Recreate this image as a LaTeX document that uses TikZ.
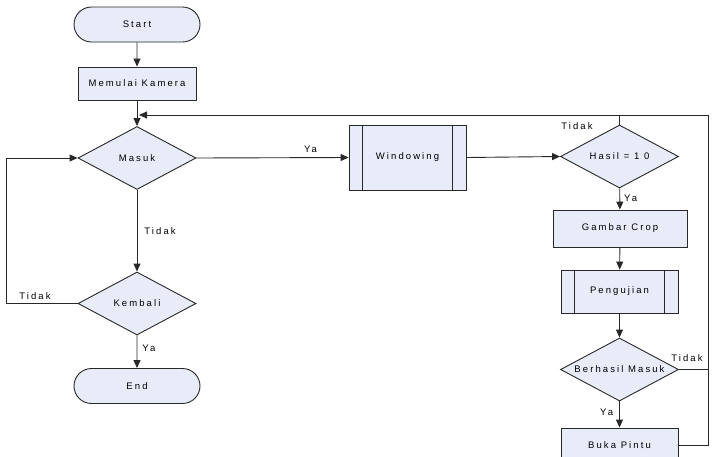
\documentclass[tikz,border=0pt]{standalone}
\usepackage{fontspec}
\setmainfont[LetterSpace=22]{Liberation Sans}
\usetikzlibrary{shapes.geometric,shapes.misc,arrows.meta,calc}
\definecolor{fillc}{RGB}{232,236,248}
\definecolor{linec}{RGB}{40,40,40}
\tikzset{
  base/.style={draw=linec, fill=fillc, line width=0.9pt, font=\fontsize{9.5}{11}\selectfont, inner sep=0pt},
  term/.style={base, rounded rectangle, minimum width=126pt, minimum height=35pt},
  proc/.style={base, rectangle},
  dec/.style={base, diamond, minimum width=118pt, minimum height=63pt, label={[lbl]center:#1}},
  lbl/.style={font=\fontsize{9.5}{11}\selectfont, inner sep=0pt},
  arr/.style={line width=0.9pt, draw=linec, -{Triangle[length=8pt,width=7pt]}},
  ln/.style={line width=0.9pt, draw=linec},
}
\begin{document}
\begin{tikzpicture}[x=1pt,y=-1pt]
\useasboundingbox (0,0) rectangle (712,456);
% nodes
\node[term] (start) at (137,24.5) {Start};
\node[proc, minimum width=118pt, minimum height=33pt] (cam) at (137,83.5) {Memulai Kamera};
\node[dec=Masuk] (masuk) at (137,158) {};
\node[dec=Kembali] (kembali) at (137,303.5) {};
\node[term] (end) at (137,386) {End};
\node[proc, minimum width=117pt, minimum height=65pt] (win) at (407.5,157.5) {Windowing};
\draw[ln] ([xshift=14pt]win.north west) -- ([xshift=14pt]win.south west);
\draw[ln] ([xshift=-14pt]win.north east) -- ([xshift=-14pt]win.south east);
\node[dec={Hasil = 1 0}] (hasil) at (619.5,156.5) {};
\node[proc, minimum width=134pt, minimum height=37pt] (crop) at (620,228.5) {Gambar Crop};
\node[proc, minimum width=117pt, minimum height=43pt] (uji) at (619.5,291.5) {Pengujian};
\draw[ln] ([xshift=14pt]uji.north west) -- ([xshift=14pt]uji.south west);
\draw[ln] ([xshift=-14pt]uji.north east) -- ([xshift=-14pt]uji.south east);
\node[dec={Berhasil Masuk}] (berhasil) at (619.5,369.5) {};
\node[proc, minimum width=117pt, minimum height=34pt] (buka) at (619.5,445) {Buka Pintu};
% helper coordinates
\coordinate (top) at (708,115);
\coordinate (ret) at (139,115);
\coordinate (lpt) at (6,158);
% connectors
\draw[arr] (start) -- (cam);
\draw[arr] (cam) -- (masuk);
\draw[arr] (masuk) -- node[lbl, right=7pt, pos=0.5] {Tidak} (kembali);
\draw[arr] (kembali) -- node[lbl, right=5pt, pos=0.4] {Ya} (end);
\draw[arr] (kembali.west) -| (lpt) -- (masuk.west);
\node[lbl] at (35,296) {Tidak};
\draw[arr] (masuk.east) -- node[lbl, above=5pt, pos=0.75] {Ya} (win.west);
\draw[arr] (win.east) -- (hasil.west);
\draw[arr] (hasil) -- node[lbl, right=4pt, pos=0.45] {Ya} (crop);
\draw[arr] (crop) -- (uji);
\draw[arr] (uji) -- (berhasil);
\draw[arr] (berhasil) -- node[lbl, left=6pt, pos=0.4] {Ya} (buka);
\draw[ln] (hasil.north) |- (top);
\node[lbl] at (577,126) {Tidak};
\draw[ln] (berhasil.east) -- (berhasil.east -| top);
\node[lbl] at (687,358) {Tidak};
\draw[arr] (buka.east) -| (top) -- (ret);
\end{tikzpicture}
\end{document}
